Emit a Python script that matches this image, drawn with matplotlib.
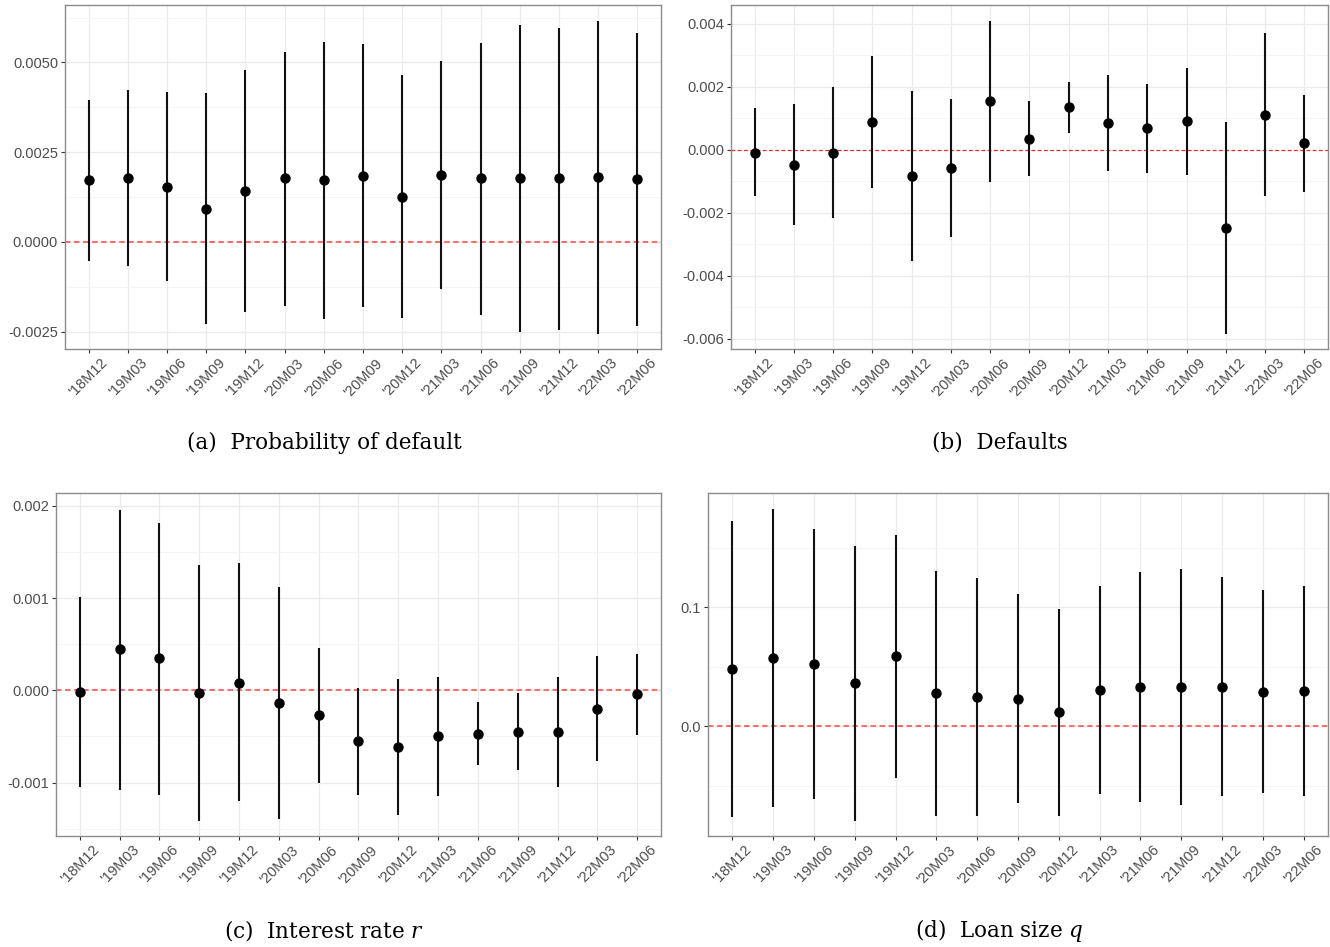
import numpy as np
import matplotlib.pyplot as plt
from matplotlib.ticker import FixedLocator

plt.rcParams['axes.unicode_minus'] = False
plt.rcParams['mathtext.fontset'] = 'dejavuserif'

# quarters on the x axis
periods = ["'18M12", "'19M03", "'19M06", "'19M09", "'19M12", "'20M03", "'20M06", "'20M09",
           "'20M12", "'21M03", "'21M06", "'21M09", "'21M12", "'22M03", "'22M06"]

# (a) probability of default
pd_est = [1.72, 1.78, 1.54, 0.93, 1.43, 1.78, 1.72, 1.85, 1.26, 1.87, 1.78, 1.78, 1.78, 1.80, 1.75]
pd_hi = [3.95, 4.22, 4.18, 4.14, 4.80, 5.30, 5.58, 5.51, 4.65, 5.04, 5.55, 6.05, 5.97, 6.15, 5.82]
pd_lo = [-0.53, -0.68, -1.10, -2.29, -1.94, -1.78, -2.14, -1.81, -2.13, -1.31, -2.03, -2.50, -2.45, -2.57, -2.33]

# (b) defaults
df_est = [-0.09, -0.48, -0.09, 0.88, -0.83, -0.58, 1.54, 0.34, 1.34, 0.85, 0.69, 0.90, -2.47, 1.11, 0.20]
df_hi = [1.33, 1.46, 1.99, 2.98, 1.87, 1.62, 4.09, 1.53, 2.16, 2.38, 2.10, 2.59, 0.88, 3.70, 1.75]
df_lo = [-1.48, -2.40, -2.15, -1.22, -3.53, -2.77, -1.01, -0.84, 0.53, -0.66, -0.73, -0.80, -5.85, -1.48, -1.35]

# (c) interest rate
ir_est = [-0.02, 0.45, 0.35, -0.03, 0.08, -0.14, -0.27, -0.55, -0.62, -0.50, -0.47, -0.45, -0.45, -0.20, -0.04]
ir_hi = [1.01, 1.96, 1.82, 1.36, 1.38, 1.12, 0.46, 0.03, 0.12, 0.14, -0.13, -0.03, 0.14, 0.37, 0.39]
ir_lo = [-1.05, -1.08, -1.13, -1.42, -1.20, -1.40, -1.01, -1.13, -1.35, -1.15, -0.81, -0.86, -1.05, -0.77, -0.48]

# (d) loan size
ls_est = [0.0486, 0.0577, 0.0520, 0.0363, 0.0591, 0.0283, 0.0249, 0.0231, 0.0117, 0.0306, 0.0329, 0.0329, 0.0334, 0.0291, 0.0300]
ls_hi = [0.1726, 0.1831, 0.1660, 0.1520, 0.1610, 0.1310, 0.1246, 0.1110, 0.0991, 0.1180, 0.1297, 0.1320, 0.1254, 0.1146, 0.1183]
ls_lo = [-0.0760, -0.0677, -0.0614, -0.0797, -0.0431, -0.0757, -0.0751, -0.0646, -0.0757, -0.0566, -0.0637, -0.0666, -0.0589, -0.0560, -0.0583]

W, H = 1330, 947
fig = plt.figure(figsize=(W / 100, H / 100), dpi=100)


def box(l, r, t, b):
    return [l / W, 1 - b / H, (r - l) / W, (b - t) / H]


panels = [
    dict(rect=box(65, 661, 5, 349), est=pd_est, hi=pd_hi, lo=pd_lo, scale=1e-3,
         ylim=(-0.00298, 0.0066), major=[-0.0025, 0, 0.0025, 0.005],
         minor=[-0.00125, 0.00125, 0.00375, 0.00625], fmt='%.4f',
         zero=dict(color='#ff6060', lw=1.3), caption='(a)  Probability of default', cx=324, cy=443),
    dict(rect=box(731, 1328, 5, 349), est=df_est, hi=df_hi, lo=df_lo, scale=1e-3,
         ylim=(-0.00632, 0.00459), major=[-0.006, -0.004, -0.002, 0, 0.002, 0.004],
         minor=[-0.005, -0.003, -0.001, 0.001, 0.003], fmt='%.3f',
         zero=dict(color='#e03030', lw=0.9), caption='(b)  Defaults', cx=1000, cy=443),
    dict(rect=box(56, 661, 493, 836), est=ir_est, hi=ir_hi, lo=ir_lo, scale=1e-3,
         ylim=(-0.00158, 0.00214), major=[-0.001, 0, 0.001, 0.002],
         minor=[-0.0015, -0.0005, 0.0005, 0.0015], fmt='%.3f',
         zero=dict(color='#ff6060', lw=1.3), caption='(c)  Interest rate $r$', cx=324, cy=930),
    dict(rect=box(708, 1328, 493, 836), est=ls_est, hi=ls_hi, lo=ls_lo, scale=1.0,
         ylim=(-0.0923, 0.1963), major=[0.0, 0.1],
         minor=[-0.05, 0.05, 0.15], fmt='%.1f',
         zero=dict(color='#ff6060', lw=1.3), caption='(d)  Loan size $q$', cx=999, cy=930),
]

x = np.arange(1, len(periods) + 1)

for p in panels:
    ax = fig.add_axes(p['rect'])
    s = p['scale']
    est = np.array(p['est']) * s
    hi = np.array(p['hi']) * s
    lo = np.array(p['lo']) * s

    ax.set_xlim(0.4, len(periods) + 0.6)
    ax.set_ylim(*p['ylim'])

    # ggplot-like grid
    ax.yaxis.set_major_locator(FixedLocator(p['major']))
    ax.yaxis.set_minor_locator(FixedLocator(p['minor']))
    ax.set_xticks(x)
    ax.set_xticklabels(periods, rotation=45, ha='center',
                       fontsize=10.5, color='#4d4d4d', family='Liberation Sans')
    ax.set_yticklabels([p['fmt'] % v for v in p['major']], fontsize=10.5,
                       color='#4d4d4d', family='Liberation Sans')
    ax.grid(True, which='major', color='#ebebeb', lw=0.9)
    ax.grid(True, which='minor', axis='y', color='#f4f4f4', lw=0.6)
    ax.set_axisbelow(True)
    ax.tick_params(axis='both', which='major', length=3, color='#333333', width=0.8, pad=2)
    ax.tick_params(axis='y', which='minor', length=0)
    for sp in ax.spines.values():
        sp.set_color('#8c8c8c')
        sp.set_linewidth(1.0)

    ax.axhline(0, ls=(0, (3, 2)), zorder=1, **p['zero'])
    ax.vlines(x, lo, hi, color='#111111', lw=1.5, zorder=2)
    ax.plot(x, est, 'o', color='black', ms=6.5, zorder=3)

    fig.text(p['cx'] / W, 1 - p['cy'] / H, p['caption'], ha='center', va='center',
             fontsize=15.5, family='DejaVu Serif')

fig.savefig('out.png', dpi=100, facecolor='white')
